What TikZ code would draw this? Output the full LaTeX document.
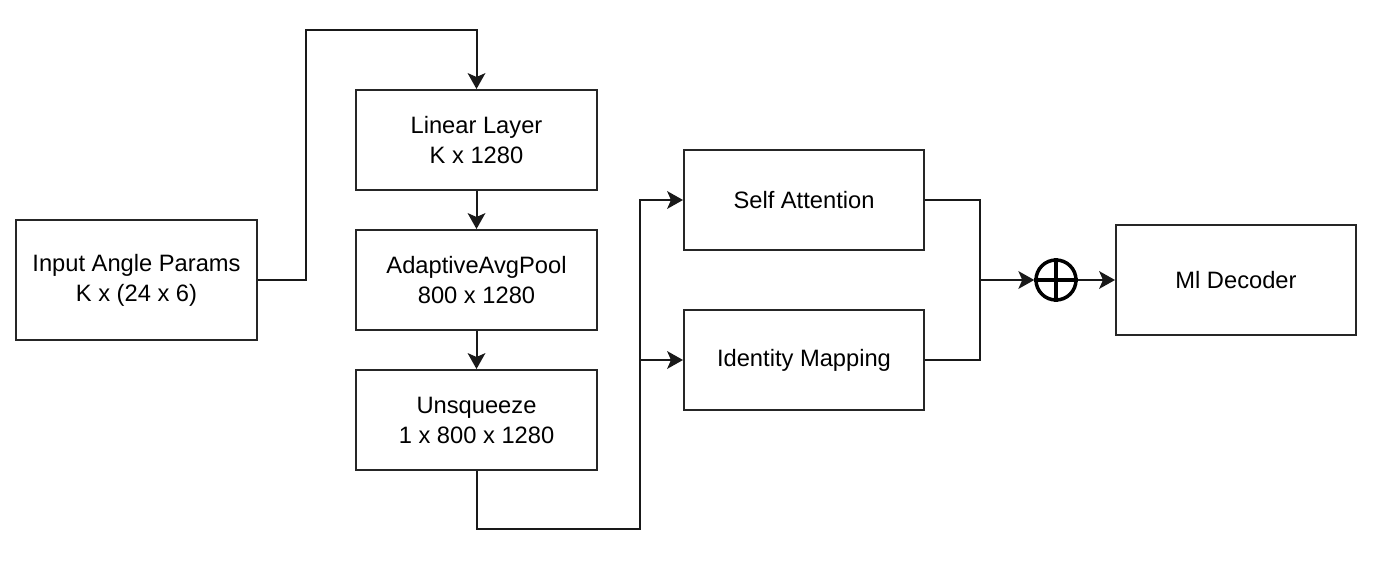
\documentclass[tikz,border=0pt]{standalone}
\usepackage{fontspec}
\setmainfont{Liberation Sans}
\usetikzlibrary{arrows.meta,calc}
\begin{document}
\begin{tikzpicture}[x=1pt,y=-1pt,
  blk/.style={draw=black!85,line width=2pt,minimum width=241pt,minimum height=100pt,
    inner sep=0pt,align=center,font=\fontsize{23.7}{30}\selectfont},
  conn/.style={line width=2pt,draw=black!90},
  arr/.style={conn,-{Stealth[length=16pt 0,width=18pt 0,inset=4pt 0,line width=0pt]}}]
\useasboundingbox (0,0) rectangle (1374,564);
\node[blk,minimum height=120pt] (inp) at (136.5,280) {Input Angle Params\\K x (24 x 6)};
\node[blk] (lin) at (476.5,140) {Linear Layer\\K x 1280};
\node[blk] (pool) at (476.5,280) {AdaptiveAvgPool\\800 x 1280};
\node[blk] (unsq) at (476.5,420) {Unsqueeze\\1 x 800 x 1280};
\node[blk,minimum width=240pt] (sa) at (804,200) {Self Attention};
\node[blk,minimum width=240pt] (idm) at (804,360) {Identity Mapping};
\node[blk,minimum width=240pt,minimum height=110pt] (dec) at (1236,280) {Ml Decoder};
\node[circle,draw=black,line width=3.5pt,minimum size=40pt,inner sep=0pt] (plus) at (1056,280) {};
\draw[line width=3.5pt] (plus.north) -- (plus.south) (plus.west) -- (plus.east);
\coordinate (split) at (640,360);
\coordinate (merge) at (980,280);
\draw[arr] (inp.east) -| (306,30) -| (lin.north);
\draw[arr] (lin) -- (pool);
\draw[arr] (pool) -- (unsq);
\draw[arr] (unsq.south) |- (640,529) |- (sa.west);
\draw[arr] (split) -- (idm.west);
\draw[conn] (sa.east) -| (merge);
\draw[conn] (idm.east) -| (merge);
\draw[arr] (merge) -- (plus.west);
\draw[arr] (plus.east) -- (dec.west);
\end{tikzpicture}
\end{document}
